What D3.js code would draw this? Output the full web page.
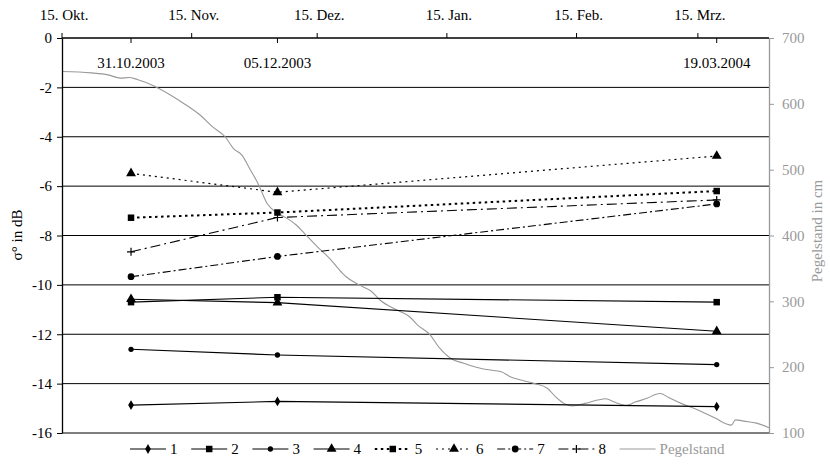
<!DOCTYPE html>
<html><head><meta charset="utf-8">
<script src="https://cdn.jsdelivr.net/npm/d3@7"></script>
<style>
body{margin:0;background:#fff;}
svg{display:block;}
svg text{font-family:"Liberation Serif","Tinos","Times New Roman","DejaVu Serif","Noto Serif",serif;}
</style></head>
<body><svg id="c" width="830" height="466"></svg>
<script>
// ---- data ----
const monthTicks = ["2003-10-15","2003-11-15","2003-12-15","2004-01-15","2004-02-15","2004-03-15"];
const monthLabels = ["15. Okt.","15. Nov.","15. Dez.","15. Jan.","15. Feb.","15. Mrz."];
const measureDates = ["2003-10-31T12:00","2003-12-05T12:00","2004-03-19T12:00"];
const measureLabels = ["31.10.2003","05.12.2003","19.03.2004"];
const seriesNames = ["1","2","3","4","5","6","7","8"];
const s1 = [-14.87, -14.72, -14.93];
const s2 = [-10.70, -10.50, -10.70];
const s3 = [-12.61, -12.84, -13.23];
const s4 = [-10.58, -10.72, -11.88];
const s5 = [-7.28, -7.07, -6.20];
const s6 = [-5.48, -6.25, -4.78];
const s7 = [-9.67, -8.85, -6.72];
const s8 = [-8.66, -7.27, -6.56];
const leftTicks = [0,-2,-4,-6,-8,-10,-12,-14,-16];
const rightTicks = [100,200,300,400,500,600,700];
const pegelDates = ["2003-10-15","2003-10-22","2003-10-26","2003-10-29","2003-10-31","2003-11-02","2003-11-06","2003-11-10","2003-11-13","2003-11-17","2003-11-20","2003-11-23","2003-11-25","2003-11-27","2003-11-29","2003-12-01","2003-12-03","2003-12-05","2003-12-07","2003-12-10","2003-12-12","2003-12-15","2003-12-18","2003-12-21","2003-12-22","2003-12-25","2003-12-28","2003-12-30","2004-01-03","2004-01-06","2004-01-08","2004-01-11","2004-01-13","2004-01-16","2004-01-19","2004-01-22","2004-01-25","2004-01-28","2004-01-30","2004-02-02","2004-02-05","2004-02-08","2004-02-10","2004-02-12","2004-02-14","2004-02-17","2004-02-20","2004-02-22","2004-02-24","2004-02-27","2004-02-29","2004-03-03","2004-03-05","2004-03-06","2004-03-08","2004-03-11","2004-03-15","2004-03-19","2004-03-23","2004-03-24","2004-03-26","2004-03-29","2004-04-01"];
const pegelValues = [649,647,644,639,640,637,627,613,601,583,565,550,532,522,500,477,449,436,429,416,403,383,365,343,337,325,315,302,287,277,264,249,231,213,206,200,196,193,186,180,175,168,155,145,141,145,150,152,147,142,147,153,159,160,154,145,135,123,112,120,118,115,108];

// ---- layout ----
const svg = d3.select("#c");
const L = 62, R = 769, T = 38, B = 433;
const parse = s => new Date(s);
const x = d3.scaleTime().domain([new Date("2003-10-15"), new Date("2004-04-01")]).range([L, R]);
const y = d3.scaleLinear().domain([-16, 0]).range([B, T]);
const y2 = d3.scaleLinear().domain([100, 700]).range([B, T]);
const grey = "#999";
const fs = 15;

// gridlines
svg.append("g").selectAll("line").data(leftTicks.filter(v => v !== 0)).join("line")
  .attr("x1", L).attr("x2", R).attr("y1", d => y(d)).attr("y2", d => y(d))
  .attr("stroke", "#000").attr("stroke-width", 1);

// pegel line
const pegel = pegelDates.map((d, i) => ({d: parse(d), v: pegelValues[i]}));
svg.append("path").datum(pegel)
  .attr("d", d3.line().x(p => x(p.d)).y(p => y2(p.v)).curve(d3.curveMonotoneX))
  .attr("fill", "none").attr("stroke", grey).attr("stroke-width", 1.1);

// left axis
const ga = svg.append("g").attr("transform", `translate(${L},0)`)
  .call(d3.axisLeft(y).tickValues(leftTicks).tickSize(5).tickSizeOuter(0).tickFormat(d => d === 0 ? "0" : "-" + Math.abs(d)));
ga.attr("font-family", null);
ga.select(".domain").attr("stroke", "#000").attr("stroke-width", 1.3);
ga.selectAll("text").attr("font-size", fs).attr("fill", "#000").attr("x", -10);
ga.selectAll(".tick line").attr("stroke", "#000");

// right axis
const gr = svg.append("g").attr("transform", `translate(${R},0)`)
  .call(d3.axisRight(y2).tickValues(rightTicks).tickSize(5).tickSizeOuter(0));
gr.attr("font-family", null);
gr.select(".domain").attr("stroke", grey).attr("stroke-width", 1.3);
gr.selectAll(".tick line").attr("stroke", grey);
gr.selectAll("text").attr("font-size", fs).attr("fill", grey).attr("x", 13);

// top axis line
svg.append("line").attr("x1", L).attr("x2", R).attr("y1", T).attr("y2", T).attr("stroke", "#000").attr("stroke-width", 1.3);
// month ticks (up)
svg.append("g").selectAll("line").data(monthTicks).join("line")
  .attr("x1", d => x(parse(d))).attr("x2", d => x(parse(d))).attr("y1", T).attr("y2", T - 5).attr("stroke", "#000");
svg.append("g").selectAll("text").data(monthTicks).join("text")
  .attr("x", d => x(parse(d)) + 2).attr("y", 20).attr("text-anchor", "middle")
  .attr("font-size", fs).text((d, i) => monthLabels[i]);
// measurement ticks (down)
svg.append("g").selectAll("line").data(measureDates).join("line")
  .attr("x1", d => x(parse(d))).attr("x2", d => x(parse(d))).attr("y1", T).attr("y2", T + 5).attr("stroke", "#000");
svg.append("g").selectAll("text").data(measureDates).join("text")
  .attr("x", d => x(parse(d))).attr("y", 68).attr("text-anchor", "middle")
  .attr("font-size", fs).text((d, i) => measureLabels[i]);

// axis titles
svg.append("text").attr("transform", "translate(22,235) rotate(-90)").attr("text-anchor", "middle")
  .attr("font-size", fs).text("σ° in dB");
svg.append("text").attr("transform", "translate(822,231) rotate(-90)").attr("text-anchor", "middle")
  .attr("font-size", fs).attr("fill", grey).text("Pegelstand in cm");

// series
const sym = {
  diamond: d3.symbol().type(d3.symbolDiamond).size(28),
  square: d3.symbol().type(d3.symbolSquare).size(42),
  circleS: d3.symbol().type(d3.symbolCircle).size(22),
  triangle: d3.symbol().type(d3.symbolTriangle).size(42),
  circleL: d3.symbol().type(d3.symbolCircle).size(36)
};
const styles = [
  {vals: s1, m: "diamond", dash: null, w: 1.1},
  {vals: s2, m: "square", dash: null, w: 1.1},
  {vals: s3, m: "circleS", dash: null, w: 1.1},
  {vals: s4, m: "triangle", dash: null, w: 1.1},
  {vals: s5, m: "square", dash: "2.5,3.5", w: 2},
  {vals: s6, m: "triangle", dash: "2,4", w: 1.2},
  {vals: s7, m: "circleL", dash: "8,3,2,3", w: 1.1},
  {vals: s8, m: "plus", dash: "10,4,2,4", w: 1.1}
];
const md = measureDates.map(parse);
function marker(g, m, cx, cy) {
  if (m === "plus") {
    g.append("path").attr("d", `M${cx-4},${cy}H${cx+4}M${cx},${cy-4}V${cy+4}`)
      .attr("stroke", "#000").attr("stroke-width", 1.2);
  } else {
    g.append("path").attr("transform", `translate(${cx},${cy})`).attr("d", sym[m]()).attr("fill", "#000");
  }
}
styles.forEach((s, k) => {
  const pts = s.vals.map((v, i) => [x(md[i]), y(v)]);
  const g = svg.append("g");
  g.append("path").attr("d", d3.line()(pts)).attr("fill", "none").attr("stroke", "#000")
    .attr("stroke-width", s.w).attr("stroke-dasharray", s.dash);
  pts.forEach(p => marker(g, s.m, p[0], p[1]));
});

// legend
const lg = svg.append("g");
const legX0 = 148, legStep = 61.2, legY = 449;
styles.forEach((s, k) => {
  const cx = legX0 + k * legStep;
  lg.append("line").attr("x1", cx - 18).attr("x2", cx + 18).attr("y1", legY).attr("y2", legY)
    .attr("stroke", "#000").attr("stroke-width", s.w).attr("stroke-dasharray", s.dash);
  marker(lg, s.m, cx, legY);
  lg.append("text").attr("x", cx + 22).attr("y", legY + 5).attr("font-size", fs).text(seriesNames[k]);
});
const px = legX0 + 8 * legStep;
lg.append("line").attr("x1", px - 18).attr("x2", px + 18).attr("y1", legY).attr("y2", legY).attr("stroke", grey).attr("stroke-width", 1.1);
lg.append("text").attr("x", px + 22).attr("y", legY + 5).attr("font-size", fs).attr("fill", grey).text("Pegelstand");
</script></body></html>
